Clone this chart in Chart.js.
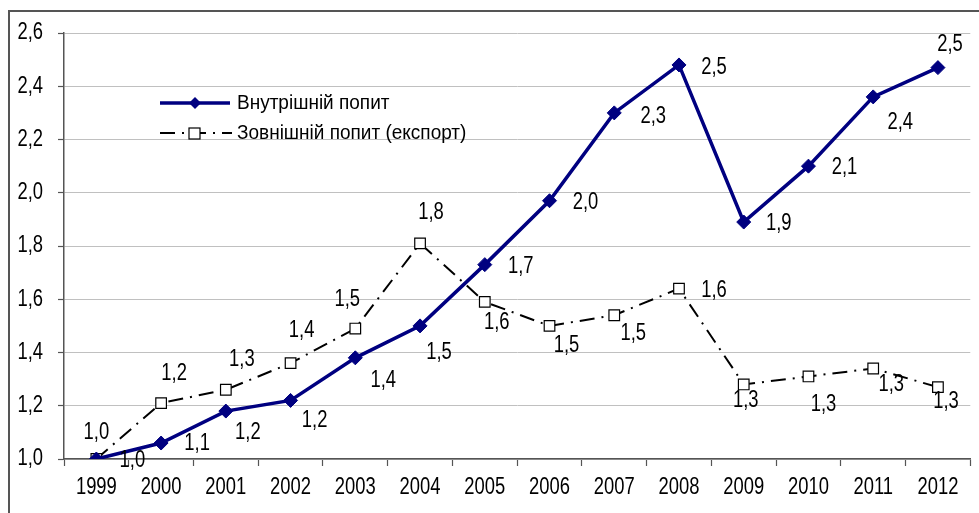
<!DOCTYPE html>
<html>
<head>
<meta charset="utf-8">
<script src="https://cdn.jsdelivr.net/npm/chart.js@4/dist/chart.umd.min.js"></script>
<style>
  body { margin: 0; background: #fff; }
  canvas { display: block; }
</style>
</head>
<body>
<canvas id="demandChart" width="979" height="513"></canvas>
<script>
// categories and values
const years = ['1999', '2000', '2001', '2002', '2003', '2004', '2005', '2006', '2007', '2008', '2009', '2010', '2011', '2012'];
const domestic = [1.0, 1.06, 1.18, 1.22, 1.38, 1.50, 1.73, 1.97, 2.30, 2.48, 1.89, 2.10, 2.36, 2.47];
const exportDemand = [1.0, 1.21, 1.26, 1.36, 1.49, 1.81, 1.59, 1.50, 1.54, 1.64, 1.28, 1.31, 1.34, 1.27];
const seriesNames = ['Внутрішній попит', 'Зовнішній попит (експорт)'];
const yTicks = [1.0, 1.2, 1.4, 1.6, 1.8, 2.0, 2.2, 2.4, 2.6];

const FONT = '"Liberation Sans", Arial, sans-serif';
const NAVY = '#000080';
const DASH = [15, 7, 2, 7];

// where each value label sits relative to its point (dx, dy)
const labelOffsets = [
    [[36, 2], [36, 1], [22, 22], [24, 20], [28, 23], [19, 27], [36, 2], [36, 2], [39, 4], [35, 3], [35, 2], [36, 2], [27, 26], [12, -23]],
    [[0, -26], [13, -29], [16, -30], [11, -32], [-8, -29], [11, -31], [12, 21], [17, 20], [19, 18], [35, 2], [2, 16], [15, 28], [18, 16], [8, 15]]
];

function fmt(v) {
    return v.toFixed(1).replace('.', ',');
}

// the original font is condensed, so squeeze the text horizontally
function narrowText(c, text, x, y, align, squeeze) {
    c.save();
    c.translate(x, y);
    c.scale(squeeze, 1);
    c.textAlign = align;
    c.fillText(text, 0, 0);
    c.restore();
}

const framePlugin = {
    id: 'frame',
    beforeDraw(chart) {
        const c = chart.ctx;
        c.save();
        c.fillStyle = '#fff';
        c.fillRect(0, 0, chart.width, chart.height);
        c.strokeStyle = '#555';
        c.lineWidth = 2;
        c.beginPath();
        c.moveTo(9, chart.height);
        c.lineTo(9, 11);
        c.lineTo(chart.width, 11);
        c.stroke();
        c.restore();
    }
};

const tickTextPlugin = {
    id: 'tickTexts',
    afterDraw(chart) {
        const c = chart.ctx;
        const x = chart.scales.x;
        const y = chart.scales.y;
        c.save();
        c.font = '23px ' + FONT;
        c.fillStyle = '#000';
        c.textBaseline = 'middle';
        yTicks.forEach(function (v) {
            narrowText(c, fmt(v), 43, y.getPixelForValue(v), 'right', 0.8);
        });
        years.forEach(function (yr, i) {
            narrowText(c, yr, x.getPixelForTick(i), y.bottom + 29, 'center', 0.8);
        });
        c.restore();
    }
};

const labelPlugin = {
    id: 'valueLabels',
    afterDatasetsDraw(chart) {
        const c = chart.ctx;
        c.save();
        c.font = '23px ' + FONT;
        c.fillStyle = '#000';
        c.textBaseline = 'middle';
        chart.data.datasets.forEach(function (ds, di) {
            const meta = chart.getDatasetMeta(di);
            meta.data.forEach(function (pt, i) {
                const off = labelOffsets[di][i];
                narrowText(c, fmt(ds.data[i]), pt.x + off[0], pt.y + off[1], 'center', 0.8);
            });
        });
        c.restore();
    }
};

const legendPlugin = {
    id: 'innerLegend',
    afterDraw(chart) {
        const c = chart.ctx;
        c.save();
        // row 1
        c.strokeStyle = NAVY;
        c.lineWidth = 3.5;
        c.beginPath();
        c.moveTo(160, 103);
        c.lineTo(230, 103);
        c.stroke();
        c.fillStyle = NAVY;
        c.beginPath();
        c.moveTo(195, 97);
        c.lineTo(201, 103);
        c.lineTo(195, 109);
        c.lineTo(189, 103);
        c.closePath();
        c.fill();
        // row 2
        c.strokeStyle = '#000';
        c.lineWidth = 2;
        c.setLineDash(DASH);
        c.beginPath();
        c.moveTo(160, 133);
        c.lineTo(232, 133);
        c.stroke();
        c.setLineDash([]);
        c.fillStyle = '#fff';
        c.fillRect(189, 128, 11, 11);
        c.lineWidth = 1.2;
        c.strokeRect(189, 128, 11, 11);
        // texts
        c.fillStyle = '#000';
        c.font = '20px ' + FONT;
        c.textBaseline = 'middle';
        narrowText(c, seriesNames[0], 237, 103, 'left', 0.95);
        narrowText(c, seriesNames[1], 237, 133, 'left', 0.95);
        c.restore();
    }
};

const ctx = document.getElementById('demandChart').getContext('2d');

new Chart(ctx, {
    type: 'line',
    data: {
        labels: years,
        datasets: [{
            label: seriesNames[0],
            data: domestic,
            borderColor: NAVY,
            backgroundColor: NAVY,
            borderWidth: 3.5,
            pointStyle: 'rectRot',
            pointRadius: 7,
            pointBorderWidth: 1,
            tension: 0,
            order: 0
        }, {
            label: seriesNames[1],
            data: exportDemand,
            borderColor: '#000',
            backgroundColor: '#fff',
            borderWidth: 2,
            borderDash: DASH,
            pointStyle: 'rect',
            pointRadius: 7.5,
            pointBorderWidth: 1.2,
            tension: 0,
            order: 1
        }]
    },
    options: {
        responsive: false,
        animation: false,
        devicePixelRatio: 1,
        layout: {
            padding: { left: 0, right: 6, top: 33, bottom: 0 }
        },
        plugins: {
            legend: { display: false },
            tooltip: { enabled: false }
        },
        scales: {
            x: {
                offset: true,
                afterFit: function (scale) { scale.height = 54; },
                grid: {
                    offset: true,
                    drawOnChartArea: false,
                    drawTicks: true,
                    tickLength: 7,
                    tickColor: '#555',
                    tickWidth: 1.2
                },
                border: { color: '#555', width: 1.5 },
                ticks: {
                    display: false,
                    autoSkip: false,
                    maxRotation: 0
                }
            },
            y: {
                min: 1.0,
                max: 2.6,
                afterFit: function (scale) { scale.width = 64; },
                afterBuildTicks: function (scale) {
                    scale.ticks = yTicks.map(function (v) { return { value: v }; });
                },
                grid: {
                    color: '#c0c0c0',
                    lineWidth: 1,
                    borderDash: [2, 2],
                    drawTicks: true,
                    tickLength: 6,
                    tickColor: '#555',
                    tickBorderDash: [],
                    tickWidth: 1.2
                },
                border: { color: '#555', width: 1.5 },
                ticks: { display: false }
            }
        }
    },
    plugins: [framePlugin, tickTextPlugin, labelPlugin, legendPlugin]
});
</script>
</body>
</html>
